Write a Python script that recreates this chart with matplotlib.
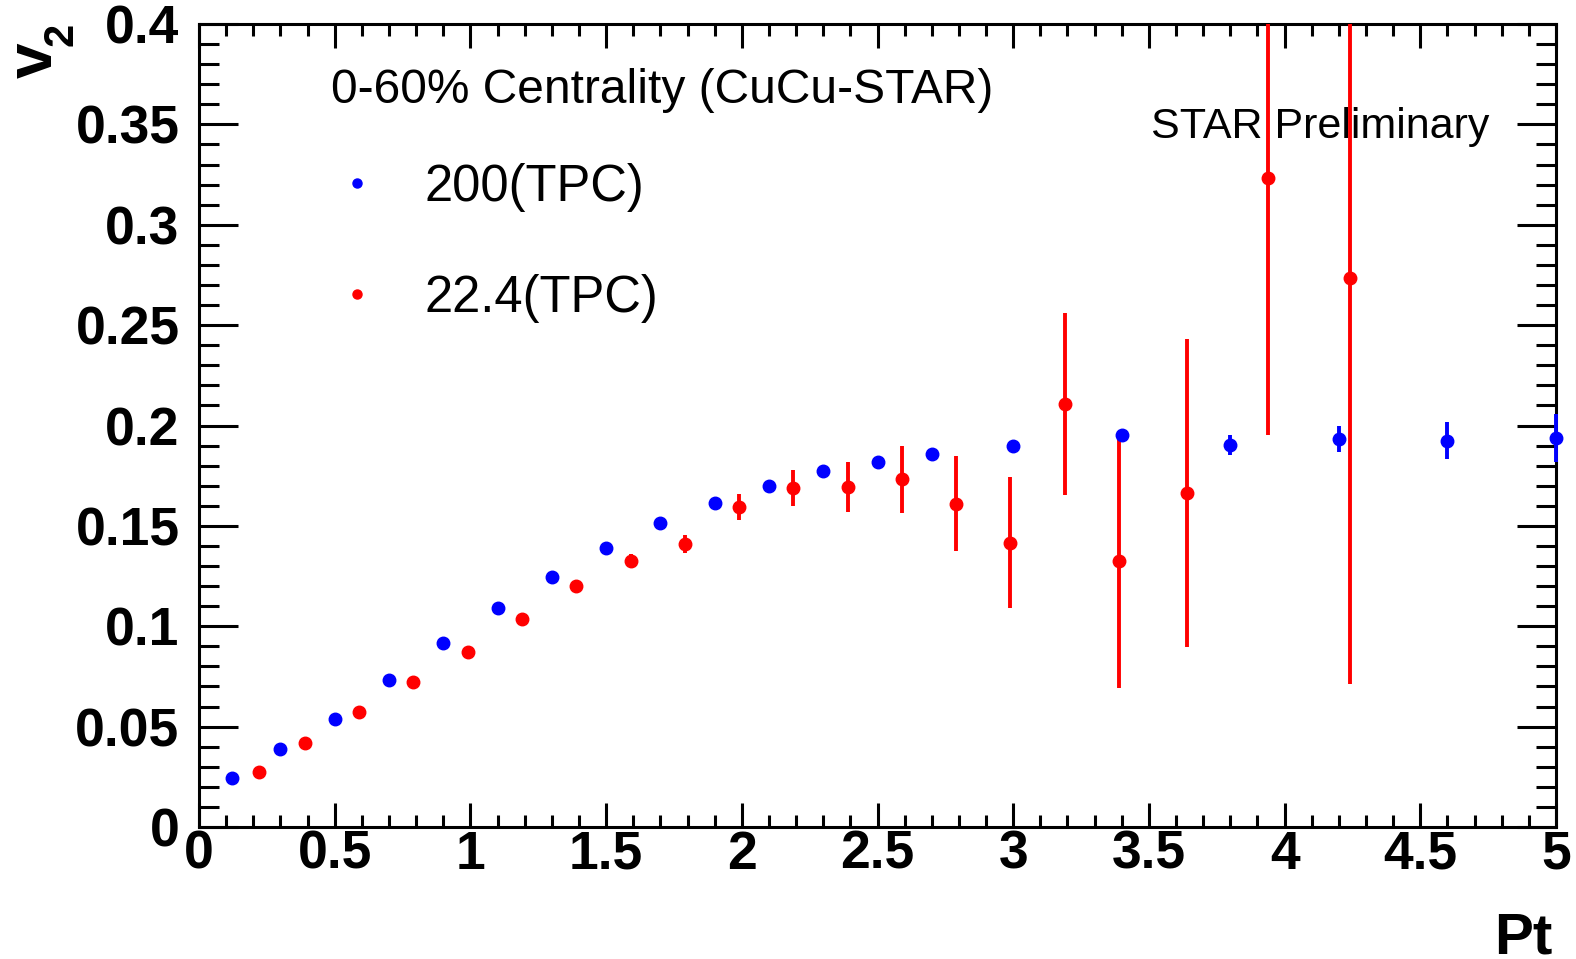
import matplotlib
matplotlib.use("Agg")
import matplotlib.pyplot as plt
from matplotlib.ticker import MultipleLocator, FormatStrFormatter
from matplotlib.lines import Line2D

# v2 vs Pt, CuCu 0-60%
pt_200 = [0.12, 0.30, 0.50, 0.70, 0.90, 1.10, 1.30, 1.50, 1.70, 1.90,
          2.10, 2.30, 2.50, 2.70, 3.00, 3.40, 3.80, 4.20, 4.60, 5.00]
v2_200 = [0.0244, 0.0389, 0.0538, 0.0732, 0.0917, 0.1090, 0.1245, 0.1390, 0.1514, 0.1614,
          0.1699, 0.1773, 0.1818, 0.1858, 0.1900, 0.1955, 0.1905, 0.1932, 0.1925, 0.1937]
err_200 = [0.0005, 0.0005, 0.0005, 0.0005, 0.0005, 0.0005, 0.0005, 0.0005, 0.0005, 0.0005,
           0.0005, 0.0005, 0.0006, 0.0007, 0.0010, 0.0020, 0.0050, 0.0066, 0.0090, 0.0120]

pt_22 = [0.22, 0.39, 0.59, 0.79, 0.99, 1.19, 1.39, 1.59, 1.79, 1.99,
         2.19, 2.39, 2.59, 2.79, 2.99, 3.19, 3.39, 3.64, 3.94, 4.24]
v2_22 = [0.0274, 0.0418, 0.0573, 0.0722, 0.0872, 0.1036, 0.1200, 0.1325, 0.1410, 0.1594,
         0.1689, 0.1694, 0.1733, 0.1610, 0.1417, 0.2107, 0.1325, 0.1662, 0.3233, 0.2737]
err_22 = [0.0005, 0.0005, 0.0007, 0.0010, 0.0010, 0.0012, 0.0020, 0.0037, 0.0047, 0.0066,
          0.0090, 0.0125, 0.0167, 0.0236, 0.0325, 0.0452, 0.0635, 0.0767, 0.1280, 0.2025]

labels = ["200(TPC)", "22.4(TPC)"]
colors = ["#0000ff", "#ff0000"]

W, H = 1576, 959
plt.rcParams['font.family'] = ['Liberation Sans', 'DejaVu Sans']

fig = plt.figure(figsize=(W / 100, H / 100), dpi=100)
ax = fig.add_axes([199 / W, 1 - 827 / H, (1556 - 199) / W, (827 - 24) / H])

eb = ax.errorbar(pt_200, v2_200, yerr=err_200, fmt='o', color=colors[0],
                 ms=9, elinewidth=2.8, capsize=0, zorder=3)
for art in eb.get_children():
    art.set_clip_on(False)
ax.errorbar(pt_22, v2_22, yerr=err_22, fmt='o', color=colors[1],
            ms=9, elinewidth=2.8, capsize=0, zorder=3)

ax.set_xlim(0, 5)
ax.set_ylim(0, 0.4)
ax.xaxis.set_major_locator(MultipleLocator(0.5))
ax.xaxis.set_minor_locator(MultipleLocator(0.1))
ax.yaxis.set_major_locator(MultipleLocator(0.05))
ax.yaxis.set_minor_locator(MultipleLocator(0.01))
ax.xaxis.set_major_formatter(FormatStrFormatter('%g'))
ax.yaxis.set_major_formatter(FormatStrFormatter('%g'))

for s in ax.spines.values():
    s.set_linewidth(2.2)
ax.tick_params(axis='both', which='both', direction='in', top=True, right=True, width=2.2)
ax.tick_params(axis='x', which='major', length=17, pad=2)
ax.tick_params(axis='x', which='minor', length=8.6)
ax.tick_params(axis='y', which='major', length=28, pad=14)
ax.tick_params(axis='y', which='minor', length=14.4)
for lab in ax.get_xticklabels() + ax.get_yticklabels():
    lab.set_fontsize(38.5)
    lab.set_fontweight('bold')

# legend (no frame, ROOT style)
handles = [Line2D([], [], ls='none', marker='o', color=c, ms=6.5) for c in colors]
ax.legend(handles, labels, loc='upper left', bbox_to_anchor=(333 / W, 1 - 163 / H),
          bbox_transform=fig.transFigure, frameon=False, fontsize=36.5,
          borderpad=0, borderaxespad=0, handlelength=0.95, handletextpad=0.85,
          labelspacing=1.22)

fig.text(331 / W, 1 - 103 / H, "0-60% Centrality (CuCu-STAR)", fontsize=34.5, va='baseline')
fig.text(1151 / W, 1 - 138 / H, "STAR Preliminary", fontsize=31, va='baseline')

# axis titles
fig.text(1552 / W, 1 - 953 / H, "Pt", fontsize=42, fontweight='bold', ha='right', va='baseline')
fig.text(52 / W, 1 - 78 / H, "v", fontsize=46, fontweight='bold', rotation=90,
         rotation_mode='anchor', ha='left', va='baseline')
fig.text(72 / W, 1 - 46 / H, "2", fontsize=30, fontweight='bold', rotation=90,
         rotation_mode='anchor', ha='left', va='baseline')

fig.savefig("out.png", dpi=100)
